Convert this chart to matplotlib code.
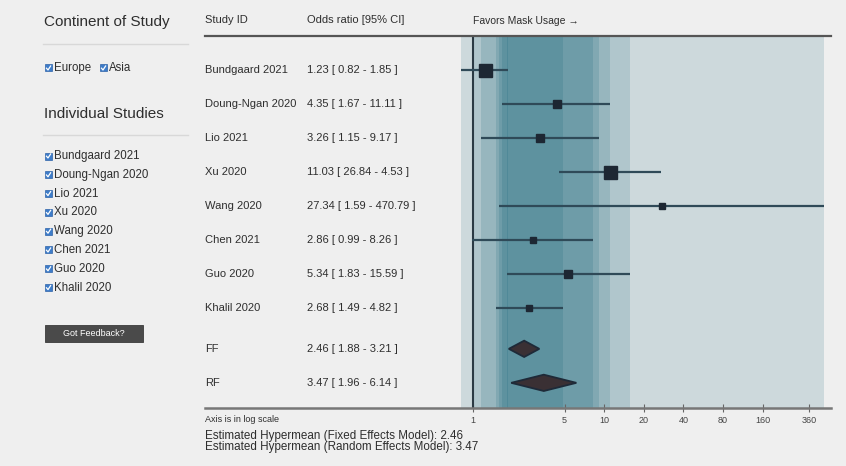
import matplotlib
matplotlib.use("Agg")
import matplotlib.pyplot as plt
import numpy as np
from matplotlib.lines import Line2D
from matplotlib.patches import Rectangle, Polygon
from matplotlib.transforms import blended_transform_factory

plt.rcParams['font.family'] = ['Liberation Sans', 'DejaVu Sans']

# data
studies = ["Bundgaard 2021", "Doung-Ngan 2020", "Lio 2021", "Xu 2020",
           "Wang 2020", "Chen 2021", "Guo 2020", "Khalil 2020"]
odds = [1.23, 4.35, 3.26, 11.03, 27.34, 2.86, 5.34, 2.68]
ci_low = [0.82, 1.67, 1.15, 26.84, 1.59, 0.99, 1.83, 1.49]
ci_high = [1.85, 11.11, 9.17, 4.53, 470.79, 8.26, 15.59, 4.82]
weights = [25, 9.5, 9.5, 25, 7, 7, 9.5, 7]

pooled = ["FF", "RF"]
pooled_or = [2.46, 3.47]
pooled_low = [1.88, 1.96]
pooled_high = [3.21, 6.14]

continents = ["Europe", "Asia"]
xticks = [1, 5, 10, 20, 40, 80, 160, 360]

W, H = 846, 466
BG = '#efefef'
TXT = '#2e2e2e'


def fx(px):
    return px / W


def fy(py):
    return 1 - py / H


fig = plt.figure(figsize=(W / 100, H / 100), dpi=100, facecolor=BG)

# ---- forest plot axes ----
x0, x1 = 461.4, 824.2
ytop, ybot = 36, 408
ax = fig.add_axes([fx(x0), fy(ybot), fx(x1) - fx(x0), (ybot - ytop) / H])
ax.set_facecolor('none')
ax.set_xscale('log')
xmin = min(min(ci_low), min(ci_high))
xmax = max(max(ci_low), max(ci_high))
ax.set_xlim(xmin, xmax)
ax.set_ylim(9.94, -1.0)

row_y = list(range(len(studies)))
pool_y = [len(studies) + 0.2, len(studies) + 1.2]

# overlapping CI bands (the reversed interval is not drawn)
for lo, hi in zip(ci_low, ci_high):
    if lo < hi:
        ax.axvspan(lo, hi, color='#00566f', alpha=0.14, lw=0, zorder=1)

ax.axvline(1, color='#2b3a44', lw=1.5, zorder=2)

for y, o, lo, hi, w in zip(row_y, odds, ci_low, ci_high, weights):
    ax.plot([min(lo, hi), max(lo, hi)], [y, y], color='#2f4a58', lw=1.6,
            solid_capstyle='butt', zorder=3)
    ax.plot(o, y, marker='s', ms=2.6 * np.sqrt(w) * 0.72, color='#1d2733',
            mec='#1d2733', zorder=4)

for y, o, lo, hi in zip(pool_y, pooled_or, pooled_low, pooled_high):
    h = 0.24
    ax.add_patch(Polygon([(lo, y), (o, y - h), (hi, y), (o, y + h)],
                         closed=True, fc='#3a3034', ec='#1e2a38', lw=1.3,
                         zorder=4))

ax.set_xticks(xticks)
ax.set_xticklabels([str(t) for t in xticks])
ax.xaxis.set_minor_locator(matplotlib.ticker.NullLocator())
ax.set_yticks([])
for s in ax.spines.values():
    s.set_visible(False)
ax.tick_params(axis='x', direction='inout', length=6, width=0.8,
               color='#666666', labelsize=6.5, labelcolor='#444444', pad=3)

# header and axis lines across the table
fig.add_artist(Line2D([fx(205), fx(831)], [fy(36), fy(36)], color='#555555', lw=1.6))
fig.add_artist(Line2D([fx(205), fx(831)], [fy(408), fy(408)], color='#777777', lw=1.8))

# table text
tr = blended_transform_factory(fig.transFigure, ax.transData)
for y, name, o, lo, hi in zip(row_y, studies, odds, ci_low, ci_high):
    ax.text(fx(205), y, name, transform=tr, fontsize=8, color=TXT, va='center')
    ax.text(fx(307), y, f"{o:.2f} [ {lo:.2f} - {hi:.2f} ]", transform=tr,
            fontsize=8, color=TXT, va='center')
for y, name, o, lo, hi in zip(pool_y, pooled, pooled_or, pooled_low, pooled_high):
    ax.text(fx(205), y, name, transform=tr, fontsize=8, color=TXT, va='center')
    ax.text(fx(307), y, f"{o:.2f} [ {lo:.2f} - {hi:.2f} ]", transform=tr,
            fontsize=8, color=TXT, va='center')

fig.text(fx(205), fy(20), "Study ID", fontsize=8, color=TXT, va='center')
fig.text(fx(307), fy(20), "Odds ratio [95% CI]", fontsize=8, color=TXT, va='center')
fig.text(fx(473), fy(21), "Favors Mask Usage \u2192", fontsize=7.5, color=TXT, va='center')

fig.text(fx(205), fy(420), "Axis is in log scale", fontsize=6.5, color=TXT, va='center')
fig.text(fx(205), fy(436), f"Estimated Hypermean (Fixed Effects Model): {pooled_or[0]:.2f}",
         fontsize=8.4, color=TXT, va='center')
fig.text(fx(205), fy(447), f"Estimated Hypermean (Random Effects Model): {pooled_or[1]:.2f}",
         fontsize=8.4, color=TXT, va='center')

# ---- left filter panel ----
def checkbox(px, py, label):
    s = 7
    fig.add_artist(Rectangle((fx(px), fy(py + s / 2)), s / W, s / H,
                             fc='#3d7cc9', ec='#2f63a8', lw=0.5))
    fig.add_artist(Line2D([fx(px + 1.5), fx(px + 3), fx(px + 5.6)],
                          [fy(py + 0.2), fy(py + 2), fy(py - 2)],
                          color='white', lw=0.9))
    fig.text(fx(px + 9), fy(py), label, fontsize=8.3, color=TXT, va='center')


fig.text(fx(44), fy(22), "Continent of Study", fontsize=11, color=TXT, va='center')
fig.add_artist(Line2D([fx(43), fx(188)], [fy(44), fy(44)], color='#d8d8d8', lw=1))
checkbox(45, 68, continents[0])
checkbox(100, 68, continents[1])

fig.text(fx(44), fy(114), "Individual Studies", fontsize=11, color=TXT, va='center')
fig.add_artist(Line2D([fx(43), fx(188)], [fy(135), fy(135)], color='#d8d8d8', lw=1))
for i, name in enumerate(studies):
    checkbox(45, 156 + 18.8 * i, name)

fig.add_artist(Rectangle((fx(45), fy(342)), 98 / W, 17 / H, fc='#4a4a4a', ec='#3a3a3a', lw=0.6))
fig.text(fx(94), fy(333.5), "Got Feedback?", fontsize=6.5, color='white',
         ha='center', va='center')

fig.savefig("out.png", dpi=100, facecolor=BG)
